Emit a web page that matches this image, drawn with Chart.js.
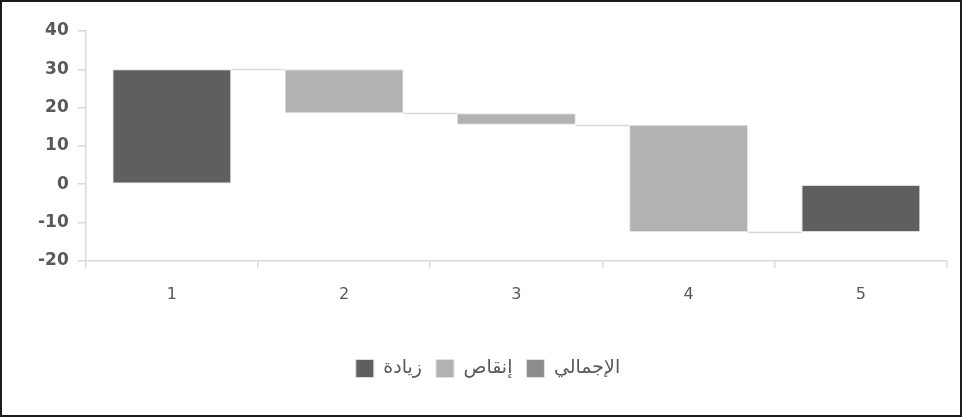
<!DOCTYPE html>
<html>
<head>
<meta charset="utf-8">
<script src="https://cdn.jsdelivr.net/npm/chart.js@4/dist/chart.umd.min.js"></script>
<style>
  html, body { margin: 0; padding: 0; background: #fff; }
  #wrap { width: 958px; height: 413px; border: 2px solid #1c1c1c; position: relative; }
</style>
</head>
<body>
<div id="wrap"><canvas id="chart"></canvas></div>
<script>
// categories and waterfall spans [from, to]
const categories = ['1', '2', '3', '4', '5']
const increase = [[0, 30], null, null, null, [-12.5, 0]]
const decrease = [null, [30, 18.5], [18.5, 15.5], [15.5, -12.5], null]
const total = [null, null, null, null, null]
const seriesNames = ['زيادة', 'إنقاص', 'الإجمالي']
const yTicks = [-20, -10, 0, 10, 20, 30, 40]

const textColor = '#595959'
const axisColor = '#d9d9d9'

// thin connector lines from the end of one bar to the start of the next
const connectors = {
  id: 'connectors',
  afterDatasetsDraw(chart) {
    const ctx = chart.ctx
    const y = chart.scales.y
    const spans = categories.map((c, i) => increase[i] || decrease[i] || total[i])
    const metas = [0, 1, 2].map(d => chart.getDatasetMeta(d))
    const bar = i => {
      for (let d = 0; d < 3; d++) {
        const el = metas[d].data[i]
        if (el && chart.data.datasets[d].data[i]) return el
      }
    }
    ctx.save()
    ctx.strokeStyle = axisColor
    ctx.lineWidth = 1.5
    for (let i = 0; i < spans.length - 1; i++) {
      const a = bar(i), b = bar(i + 1)
      const py = Math.round(y.getPixelForValue(spans[i][1])) + 0.5
      ctx.beginPath()
      ctx.moveTo(a.x + a.width / 2, py)
      ctx.lineTo(b.x - b.width / 2, py)
      ctx.stroke()
    }
    ctx.restore()
  }
}

new Chart(document.getElementById('chart'), {
  type: 'bar',
  data: {
    labels: categories,
    datasets: [
      { label: seriesNames[0], data: increase, backgroundColor: '#5f5f5f', borderColor: '#dedede', borderWidth: 1, borderSkipped: false },
      { label: seriesNames[1], data: decrease, backgroundColor: '#b2b2b2', borderColor: '#e2e2e2', borderWidth: 1, borderSkipped: false },
      { label: seriesNames[2], data: total, backgroundColor: '#8c8c8c', borderColor: '#e2e2e2', borderWidth: 1, borderSkipped: false }
    ]
  },
  options: {
    responsive: true,
    maintainAspectRatio: false,
    animation: false,
    barPercentage: 0.69,
    categoryPercentage: 1,
    layout: { padding: { left: 27, right: 13, top: 29, bottom: 27 } },
    plugins: {
      tooltip: { enabled: false },
      legend: {
        position: 'bottom',
        labels: {
          font: { family: 'DejaVu Sans', size: 19 },
          color: textColor,
          boxWidth: 18,
          boxHeight: 18,
          padding: 14
        }
      }
    },
    scales: {
      x: {
        stacked: true,
        border: { color: axisColor, width: 1.5 },
        grid: { offset: true, drawOnChartArea: false, color: axisColor, tickLength: 7, lineWidth: 1.5 },
        ticks: { color: textColor, font: { family: 'DejaVu Sans', size: 16 }, padding: 17 },
        afterFit: axis => { axis.height += 24 }
      },
      y: {
        min: -20,
        max: 40,
        border: { color: axisColor, width: 1.5 },
        grid: { drawOnChartArea: false, color: axisColor, tickLength: 8, lineWidth: 1.5 },
        afterBuildTicks: axis => { axis.ticks = yTicks.map(v => ({ value: v })) },
        ticks: { color: textColor, font: { family: 'DejaVu Sans', size: 17, weight: 'bold' }, padding: 9 }
      }
    }
  },
  plugins: [connectors]
})
</script>
</body>
</html>
